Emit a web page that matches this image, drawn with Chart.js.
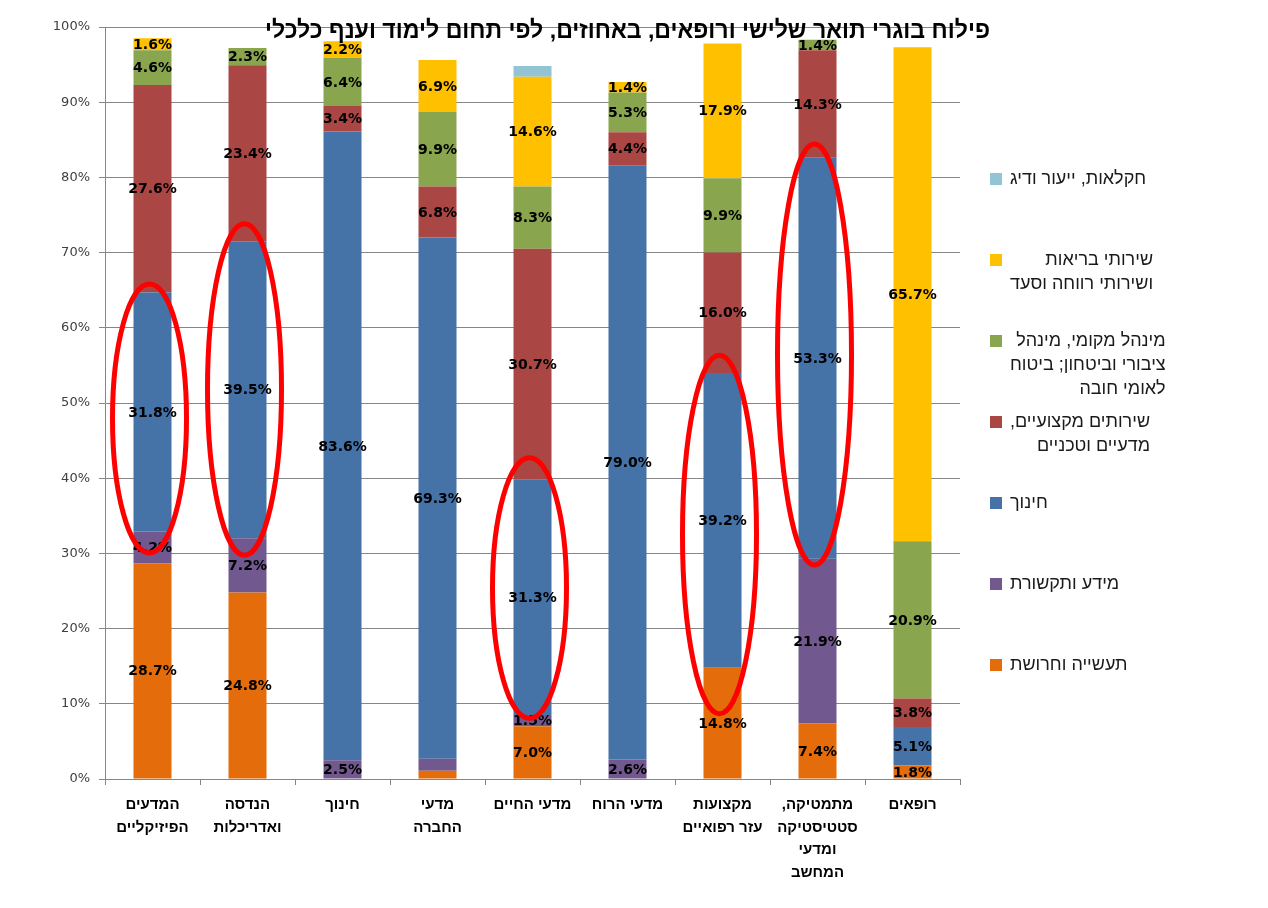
<!DOCTYPE html>
<html>
<head>
<meta charset="utf-8">
<script src="https://cdn.jsdelivr.net/npm/chart.js@4/dist/chart.umd.min.js"></script>
<style>
html,body{margin:0;padding:0;background:#fff;}
#wrap{width:1268px;height:908px;position:relative;}
</style>
</head>
<body>
<div id="wrap"><canvas id="chart" width="1268" height="908"></canvas></div>
<script>
// categories (multi-line labels); \u200F keeps a trailing comma on the Hebrew side
const categories = [
 ["המדעים","הפיזיקליים"],
 ["הנדסה","ואדריכלות"],
 ["חינוך"],
 ["מדעי","החברה"],
 ["מדעי החיים"],
 ["מדעי הרוח"],
 ["מקצועות","עזר רפואיים"],
 ["מתמטיקה,\u200F","סטטיסטיקה","ומדעי","המחשב"],
 ["רופאים"]
];

// series, bottom to top
const industry   = [28.7, 24.8, 0,    1.1,  7.0,  0,    14.8, 7.4,  1.8];
const infoComm   = [4.2,  7.2,  2.5,  1.6,  1.5,  2.6,  0,    21.9, 0];
const education  = [31.8, 39.5, 83.6, 69.3, 31.3, 79.0, 39.2, 53.3, 5.1];
const profServ   = [27.6, 23.4, 3.4,  6.8,  30.7, 4.4,  16.0, 14.3, 3.8];
const publicAdm  = [4.6,  2.3,  6.4,  9.9,  8.3,  5.3,  9.9,  1.4,  20.9];
const health     = [1.6,  0,    2.2,  6.9,  14.6, 1.4,  17.9, 0,    65.7];
const agriculture= [0,    0,    0,    0,    1.4,  0,    0,    0,    0];

const yTicks = [0,10,20,30,40,50,60,70,80,90,100];

// labels not printed in the original ("series-category")
const hiddenLabels = ["0-3", "1-3", "6-4"];

// red ellipses: category index and value range
const highlights = [
 {index:0, from:29.8, to:66.1},
 {index:1, from:29.5, to:74.1},
 {index:4, from:7.8,  to:43.0},
 {index:6, from:8.4,  to:56.6},
 {index:7, from:28.2, to:84.7}
];

const title = "פילוח בוגרי תואר שלישי ורופאים, באחוזים, לפי תחום לימוד וענף כלכלי";

const series = [
 {label:["תעשייה וחרושת"], data:industry, color:"#E46C0A"},
 {label:["מידע ותקשורת"], data:infoComm, color:"#71588F"},
 {label:["חינוך"], data:education, color:"#4572A7"},
 {label:["שירותים מקצועיים,\u200F","מדעיים וטכניים"], data:profServ, color:"#AA4643"},
 {label:["מינהל מקומי, מינהל","ציבורי וביטחון; ביטוח","לאומי חובה"], data:publicAdm, color:"#89A54E"},
 {label:["שירותי בריאות","ושירותי רווחה וסעד"], data:health, color:"#FFC000"},
 {label:["חקלאות, ייעור ודיג"], data:agriculture, color:"#93C4D6"}
];

const HEB = "'Liberation Sans', Arial, 'DejaVu Sans', sans-serif";

const extrasPlugin = {
 id:'extras',
 afterDatasetsDraw(chart){
  const ctx = chart.ctx;
  const y = chart.scales.y;
  const x = chart.scales.x;

  // data labels
  ctx.save();
  ctx.font = "bold 14px 'DejaVu Sans', Verdana, sans-serif";
  ctx.fillStyle = "#000";
  ctx.textAlign = "center";
  ctx.textBaseline = "middle";
  chart.data.datasets.forEach((ds, di) => {
   const meta = chart.getDatasetMeta(di);
   meta.data.forEach((bar, i) => {
    const v = ds.data[i];
    if(!v || hiddenLabels.includes(di + "-" + i)) return;
    const cy = (bar.y + bar.base) / 2;
    ctx.fillText(v.toFixed(1) + "%", bar.x, cy + 1);
   });
  });
  ctx.restore();

  // ellipses
  ctx.save();
  ctx.strokeStyle = "#FF0000";
  ctx.lineWidth = 5;
  highlights.forEach(h => {
   const cx = x.getPixelForValue(h.index) - 3;
   const top = y.getPixelForValue(h.to);
   const bot = y.getPixelForValue(h.from);
   ctx.beginPath();
   ctx.ellipse(cx, (top + bot) / 2, 37, (bot - top) / 2 - 2, 0, 0, Math.PI * 2);
   ctx.stroke();
  });
  ctx.restore();

  // title
  ctx.save();
  ctx.font = "bold 23px " + HEB;
  ctx.textAlign = "left";
  ctx.textBaseline = "middle";
  ctx.fillStyle = "#000";
  const tw = ctx.measureText(title).width;
  const sx = 725 / tw;
  ctx.translate(265, 31);
  ctx.scale(sx, 1.05);
  ctx.fillText(title, 0, 0);
  ctx.restore();

  // legend (top entry first)
  ctx.save();
  ctx.font = "18px " + HEB;
  ctx.textBaseline = "middle";
  ctx.textAlign = "left";
  const items = series.slice().reverse();
  items.forEach((s, k) => {
   const yy = 179 + k * 81;
   ctx.fillStyle = s.color;
   ctx.fillRect(990, yy - 6, 12, 12);
   ctx.fillStyle = "#1a1a1a";
   let w = 0;
   s.label.forEach(l => { w = Math.max(w, ctx.measureText(l).width); });
   const right = 1010 + w;
   s.label.forEach((l, li) => {
    ctx.fillText(l, right - ctx.measureText(l).width, yy + li * 24);
   });
  });
  ctx.restore();
 }
};

new Chart(document.getElementById("chart"), {
 type:'bar',
 data:{
  labels:categories,
  datasets:series.map(s => ({
   label:s.label.join(" "),
   data:s.data,
   backgroundColor:s.color,
   borderWidth:0,
   barPercentage:0.4,
   categoryPercentage:1
  }))
 },
 options:{
  responsive:false,
  animation:false,
  layout:{padding:{top:27, right:308, left:0, bottom:0}},
  plugins:{
   legend:{display:false},
   tooltip:{enabled:false},
   title:{display:false}
  },
  scales:{
   x:{
    stacked:true,
    afterFit(scale){ scale.height = 129; },
    border:{color:"#868686", width:1},
    grid:{offset:true, drawOnChartArea:false, drawTicks:true, tickLength:6, color:"#868686"},
    ticks:{
     color:"#000",
     padding:9,
     maxRotation:0,
     autoSkip:false,
     font:{family:"'Liberation Sans', Arial, sans-serif", size:15, weight:'bold', lineHeight:1.5}
    }
   },
   y:{
    stacked:true,
    min:0,
    max:100,
    afterFit(scale){ scale.width = 105; },
    afterBuildTicks(scale){ scale.ticks = yTicks.map(v => ({value:v})); },
    border:{color:"#868686", width:1},
    grid:{color:"#868686", lineWidth:1, tickLength:6},
    ticks:{
     color:"#404040",
     padding:9,
     font:{family:"'DejaVu Sans', Verdana, sans-serif", size:13},
     callback:v => v + "%"
    }
   }
  }
 },
 plugins:[extrasPlugin]
});
</script>
</body>
</html>
